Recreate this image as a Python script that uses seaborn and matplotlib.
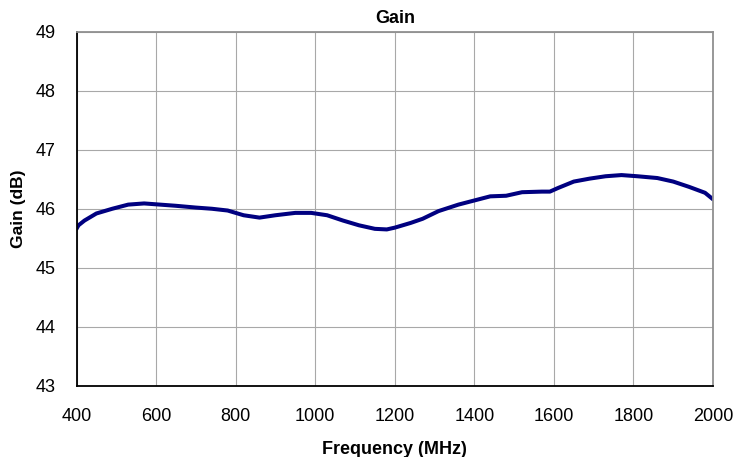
import matplotlib
matplotlib.use("Agg")
import matplotlib.pyplot as plt
import seaborn as sns
import pandas as pd

freq_mhz = [400, 405, 420, 450, 490, 530, 570, 610, 650, 700, 740, 780, 820, 860,
            900, 950, 990, 1030, 1070, 1110, 1150, 1180, 1200, 1240, 1270, 1310,
            1360, 1400, 1440, 1480, 1520, 1570, 1590, 1610, 1650, 1690, 1730, 1770,
            1810, 1860, 1900, 1940, 1980, 2000]
gain_db = [45.66, 45.72, 45.80, 45.92, 46.00, 46.07, 46.09, 46.07, 46.05, 46.02, 46.00,
           45.97, 45.89, 45.85, 45.89, 45.93, 45.93, 45.89, 45.80, 45.72, 45.66, 45.65,
           45.68, 45.76, 45.83, 45.96, 46.07, 46.14, 46.21, 46.22, 46.28, 46.29, 46.29,
           46.35, 46.46, 46.51, 46.55, 46.57, 46.55, 46.52, 46.46, 46.37, 46.27, 46.16]
x_ticks = [400, 600, 800, 1000, 1200, 1400, 1600, 1800, 2000]
y_ticks = [43, 44, 45, 46, 47, 48, 49]

df = pd.DataFrame({"Frequency": freq_mhz, "Gain": gain_db})

sns.set_style("white")
plt.rcParams["font.family"] = ["Liberation Sans", "DejaVu Sans"]
plt.rcParams["text.color"] = "black"
plt.rcParams["axes.labelcolor"] = "black"

fig = plt.figure(figsize=(7.34, 4.57), dpi=100)
ax = fig.add_axes([76.5 / 734, 1 - 386 / 457, (713 - 76.5) / 734, (386 - 31.5) / 457])

sns.lineplot(data=df, x="Frequency", y="Gain", ax=ax, color="#000080", linewidth=2.9)

ax.set_xlim(400, 2000)
ax.set_ylim(43, 49)
ax.set_xticks(x_ticks)
ax.set_yticks(y_ticks)
ax.grid(True, color="#a8a8a8", linewidth=0.8)
ax.set_axisbelow(True)

for side in ["left", "bottom"]:
    ax.spines[side].set_color("black")
    ax.spines[side].set_linewidth(1.3)
for side in ["top", "right"]:
    ax.spines[side].set_color("#909090")
    ax.spines[side].set_linewidth(1.3)
    ax.spines[side].set_visible(True)

ax.tick_params(axis="both", which="major", length=5, width=0.8, color="#a0a0a0",
               labelsize=13, labelcolor="black", direction="out")
ax.tick_params(axis="x", pad=11)
ax.tick_params(axis="y", pad=10)

ax.set_title("Gain", fontsize=13, fontweight="bold", pad=6, color="black")
ax.set_xlabel("Frequency (MHz)", fontsize=13, fontweight="bold", labelpad=11, color="black")
ax.set_ylabel("Gain (dB)", fontsize=12.5, fontweight="bold", labelpad=7, color="black")

fig.savefig("out.png", dpi=100)
